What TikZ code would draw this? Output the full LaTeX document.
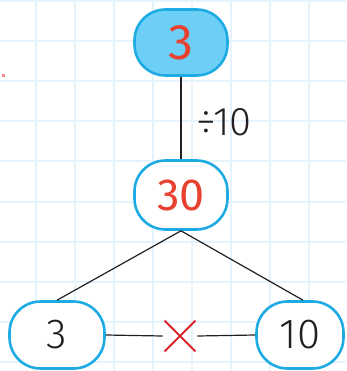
\documentclass[tikz,border=0pt]{standalone}
\usepackage{fontspec}
\setmainfont{Fira Sans Light}
\newfontfamily\handfont{Fira Sans}
\usetikzlibrary{shapes.misc}
\definecolor{gridc}{HTML}{E5F3FC}
\definecolor{cyanb}{HTML}{1EABE3}
\definecolor{cyanf}{HTML}{6DCFF6}
\definecolor{redt}{HTML}{E8412F}
\definecolor{redx}{HTML}{D9252D}
\definecolor{ink}{HTML}{231F20}
\begin{document}
\begin{tikzpicture}[x=1pt,y=-1pt,
  gridline/.style={draw=gridc,line width=2pt},
  box/.style={draw=cyanb,line width=2.6pt,rounded corners=31pt,inner sep=0pt},
  conn/.style={draw=ink,line width=1.2pt},
  digit/.style={text=ink,font=\fontsize{42}{42}\selectfont},
  hand/.style={text=redt,font=\handfont\fontsize{#1}{#1}\selectfont},
  lab/.style={text=ink,font=\fontsize{40}{40}\selectfont,inner sep=0pt}]
\useasboundingbox (0,0) rectangle (346,371);
\fill[white] (0,0) rectangle (346,371);
\foreach \i in {0,...,8} \draw[gridline] ({36+39*\i},0) -- ({36+39*\i},371);
\foreach \j in {0,...,9} \draw[gridline] (0,{1+40.1*\j}) -- (346,{1+40.1*\j});
\fill[redt!60] (2,74) rectangle (5,77);
\node[box,fill=cyanf,minimum width=93pt,minimum height=66pt,hand=50] (top) at (181,42.5) {3\hspace{20pt}};
\node[box,fill=white,minimum width=93pt,minimum height=69pt,hand=45] (mid) at (181,195) {30\hspace{12pt}};
\node[box,fill=white,minimum width=95pt,minimum height=67pt,digit] (left) at (57,335) {3};
\node[box,fill=white,minimum width=87pt,minimum height=67pt,digit] (right) at (300,335) {10};
\node[lab] (div) at (224,122) {÷10};
\node[cross out,draw=redx,line width=1.8pt,minimum size=29pt,inner sep=0pt] (times) at (180,336) {};
\draw[conn] (top.south) -- (mid.north);
\draw[conn] (mid.south) -- (left.north);
\draw[conn] (mid.south) -- ([xshift=3pt]right.north);
\draw[conn] (left.east) -- ([xshift=-2pt]times.west);
\draw[conn] ([xshift=2pt]times.east) -- (right.west);
\end{tikzpicture}
\end{document}
